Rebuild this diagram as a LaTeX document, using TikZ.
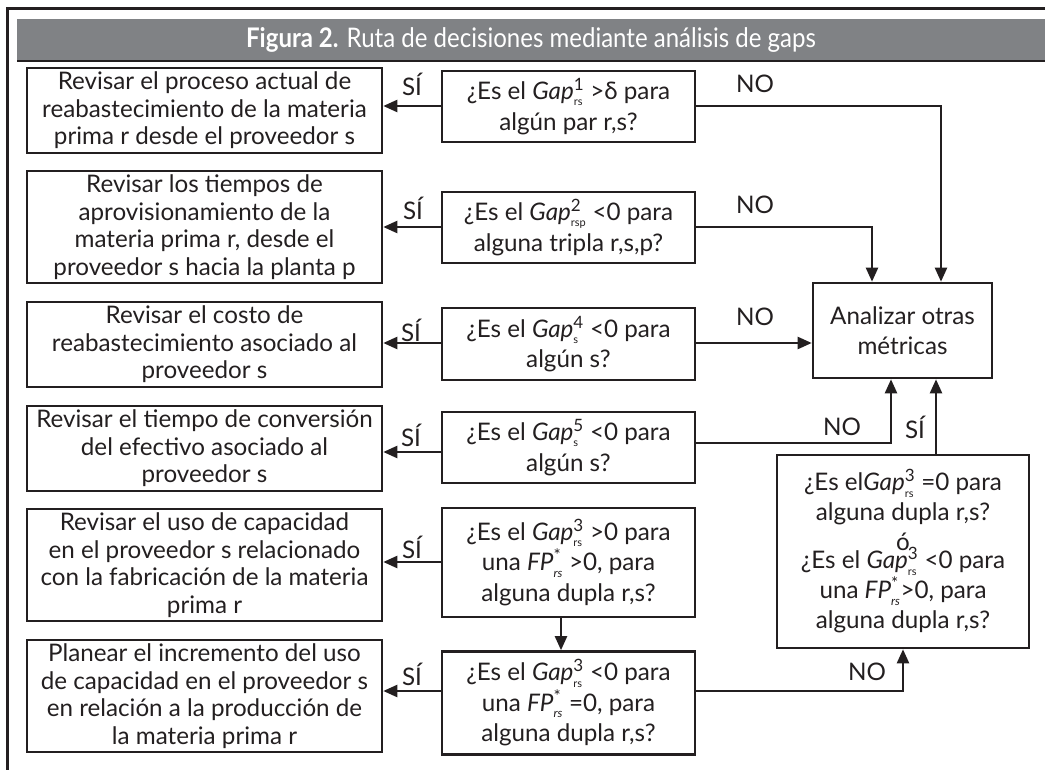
\documentclass[tikz,border=0pt]{standalone}
\usepackage{fontspec}
\usepackage{graphicx}
\setmainfont{Lato}
\usetikzlibrary{arrows.meta}
\definecolor{ink}{HTML}{231F20}
\definecolor{bar}{HTML}{808285}
\newcommand{\gp}[2]{\textit{Gap}$^{\mbox{\fontsize{17}{17}\selectfont #1}}_{\mbox{\fontsize{11}{11}\selectfont #2}}$}
\newcommand{\fpv}[1]{\textit{FP}$^{\mbox{\fontsize{17}{17}\selectfont *}}_{\mbox{\fontsize{12}{12}\selectfont\itshape #1}}$}
\begin{document}
\begin{tikzpicture}[x=1pt,y=-1pt,
  box/.style={draw=ink,line width=2.6pt,align=center,inner sep=0pt,text=ink,
    font=\fontsize{24.2}{27.5}\selectfont},
  lbox/.style={box,minimum width=355pt},
  mbox/.style={box,minimum width=253pt,font=\fontsize{24.2}{30.5}\selectfont},
  conn/.style={draw=ink,line width=2.3pt,-{Triangle[length=14pt,width=12pt]}},
  lbl/.style={text=ink,font=\fontsize{24.2}{27}\selectfont,inner sep=0pt}]
\useasboundingbox (0,0) rectangle (1045,770);
% frame and title bar
\draw[ink,line width=3pt] (1045,8.5) -- (7,8.5) -- (7,770);
\fill[bar] (17,19) rectangle (1045,60);
\draw[ink,line width=2.5pt] (17,61) -- (1045,61);
\node[text=white,font=\fontsize{27}{30}\selectfont,inner sep=0pt] (title) at (531,40)
  {\scalebox{0.89}[1]{\textbf{Figura 2.} Ruta de decisiones mediante análisis de gaps}};
% left column
\node[lbox,minimum height=85pt] (L1) at (204.5,110.5) {Revisar el proceso actual de\\reabastecimiento de la materia\\prima r desde el proveedor s};
\node[lbox,minimum height=112pt] (L2) at (204.5,227) {Revisar los tiempos de\\aprovisionamiento de la\\materia prima r, desde el\\proveedor s hacia la planta p};
\node[lbox,minimum height=85pt] (L3) at (204.5,344.5) {Revisar el costo de\\reabastecimiento asociado al\\proveedor s};
\node[lbox,minimum height=85pt] (L4) at (204.5,448.5) {Revisar el tiempo de conversión\\del efectivo asociado al\\proveedor s};
\node[lbox,minimum height=112pt] (L5) at (204.5,565) {Revisar el uso de capacidad\\en el proveedor s relacionado\\con la fabricación de la materia\\prima r};
\node[lbox,minimum height=112pt] (L6) at (204.5,696) {Planear el incremento del uso\\de capacidad en el proveedor s\\en relación a la producción de\\la materia prima r};
% middle column
\node[mbox,minimum height=71pt] (M1) at (568.5,106.5) {¿Es el \gp{1}{rs} >δ para\\algún par r,s?};
\node[mbox,minimum height=71pt] (M2) at (568.5,227.5) {¿Es el \gp{2}{rsp} <0 para\\alguna tripla r,s,p?};
\node[mbox,minimum height=72pt] (M3) at (568.5,344) {¿Es el \gp{4}{s} <0 para\\algún s?};
\node[mbox,minimum height=71pt] (M4) at (568.5,447.5) {¿Es el \gp{5}{s} <0 para\\algún s?};
\node[mbox,minimum height=109pt] (M5) at (568.5,562.5) {¿Es el \gp{3}{rs} >0 para\\una \fpv{rs} >0, para\\alguna dupla r,s?};
\node[mbox,minimum height=103pt] (M6) at (568.5,703) {¿Es el \gp{3}{rs} <0 para\\una \fpv{rs} =0, para\\alguna dupla r,s?};
% right column
\node[box,minimum width=179pt,minimum height=95pt,font=\fontsize{24.2}{30}\selectfont] (R1) at (902.5,330.5) {Analizar otras\\métricas};
\node[box,minimum width=252pt,minimum height=193pt,font=\fontsize{24.2}{30}\selectfont] (R2) at (903,551.5) {¿Es el\gp{3}{rs} =0 para\\alguna dupla r,s?\\ó\\[-12pt]¿Es el \gp{3}{rs} <0 para\\una \fpv{rs}>0, para\\alguna dupla r,s?};
% helper coordinates
\coordinate (y1) at (0,106);
\coordinate (y2) at (0,227);
\coordinate (y3) at (0,343);
\coordinate (y4s) at (0,452);
\coordinate (y4n) at (0,443);
\coordinate (y5) at (0,562);
\coordinate (y6) at (0,691);
\coordinate (xa) at (941,0);
\coordinate (xb) at (872,0);
\coordinate (xc) at (891,0);
\coordinate (xd) at (936,0);
\coordinate (xe) at (903,0);
\coordinate (xf) at (561,0);
% SI connectors
\draw[conn] (M1.west |- y1) -- (L1.east |- y1);
\draw[conn] (M2.west |- y2) -- (L2.east |- y2);
\draw[conn] (M3.west |- y3) -- (L3.east |- y3);
\draw[conn] (M4.west |- y4s) -- (L4.east |- y4s);
\draw[conn] (M5.west |- y5) -- (L5.east |- y5);
\draw[conn] (M6.west |- y6) -- (L6.east |- y6);
% NO connectors
\draw[conn] (M1.east |- y1) -| (xa |- R1.north);
\draw[conn] (M2.east |- y2) -| (xb |- R1.north);
\draw[conn] (M3.east |- y3) -- (R1.west |- y3);
\draw[conn] (M4.east |- y4n) -| (xc |- R1.south);
\draw[conn] (xd |- R2.north) -- (xd |- R1.south);
\draw[conn] (M6.east |- y6) -| (xe |- R2.south);
\draw[conn] (xf |- M5.south) -- (xf |- M6.north);
% labels
\node[lbl] (s1) at (412,84) {SÍ};
\node[lbl] (s2) at (413,208) {SÍ};
\node[lbl] (s3) at (411,330) {SÍ};
\node[lbl] (s4) at (411,435) {SÍ};
\node[lbl] (s5) at (412,547) {SÍ};
\node[lbl] (s6) at (412,674) {SÍ};
\node[lbl] (n1) at (755,84) {NO};
\node[lbl] (n2) at (755,205) {NO};
\node[lbl] (n3) at (755,317) {NO};
\node[lbl] (n4) at (842,427) {NO};
\node[lbl] (s7) at (915,427) {SÍ};
\node[lbl] (n6) at (867,672) {NO};
\end{tikzpicture}
\end{document}
